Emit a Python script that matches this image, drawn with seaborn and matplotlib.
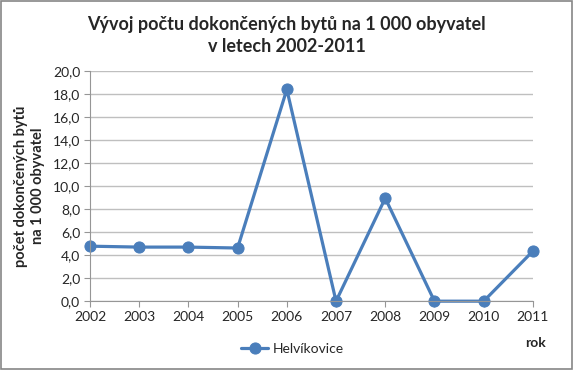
import matplotlib
matplotlib.use("Agg")
import matplotlib.pyplot as plt
import seaborn as sns
import pandas as pd
from matplotlib.patches import Rectangle

years = ["2002", "2003", "2004", "2005", "2006", "2007", "2008", "2009", "2010", "2011"]
values = [4.78, 4.7, 4.7, 4.62, 18.4, 0.0, 8.95, 0.0, 0.0, 4.35]
series_name = "Helvíkovice"
y_ticks = [0, 2, 4, 6, 8, 10, 12, 14, 16, 18, 20]

sns.set_style("white")
plt.rcParams['font.family'] = ['Lato', 'DejaVu Sans']

df = pd.DataFrame({"rok": list(range(len(years))), "value": values, "series": series_name})

fig = plt.figure(figsize=(5.73, 3.70), dpi=100)
ax = fig.add_axes([0.157, 0.186, 0.773, 0.622])
color = "#4A7EBB"
sns.lineplot(data=df, x="rok", y="value", hue="series", palette=[color], marker="o",
             markersize=8, linewidth=2.3, markeredgecolor=color, ax=ax, legend=True)
for ln in ax.lines:
    ln.set_clip_on(False)

ax.set_xlim(0, len(years) - 1)
ax.set_ylim(0, 20)
ax.set_xticks(range(len(years)))
ax.set_xticklabels(years, fontsize=10)
ax.set_yticks(y_ticks)
ax.set_yticklabels([f"{v:.1f}".replace(".", ",") for v in y_ticks], fontsize=10)
ax.yaxis.grid(True, color="#BFBFBF", linewidth=1)
ax.set_axisbelow(True)
for s in ["top", "right"]:
    ax.spines[s].set_visible(False)
for s in ["left", "bottom"]:
    ax.spines[s].set_color("#969696")
ax.tick_params(axis="both", which="both", length=4, color="#969696", direction="out",
               bottom=True, left=True, pad=3)
ax.set_xlabel("")
ax.set_ylabel("počet dokončených bytů\nna 1 000 obyvatel", fontsize=10.5, fontweight="bold", labelpad=6)

ax.legend(frameon=False, fontsize=10, handlelength=2.0, handletextpad=0.3)
leg = ax.get_legend()
leg.set_bbox_to_anchor((0.51, 0.058), transform=fig.transFigure)
leg.set_loc("center")

fig.text(0.5, 0.935, "Vývoj počtu dokončených bytů na 1 000 obyvatel", ha="center", va="center",
         fontsize=13, fontweight="bold")
fig.text(0.5, 0.875, "v letech 2002-2011", ha="center", va="center", fontsize=13, fontweight="bold")
fig.text(0.935, 0.073, "rok", ha="center", va="center", fontsize=10, fontweight="bold")

fig.patches.append(Rectangle((0.002, 0.003), 0.996, 0.994, transform=fig.transFigure,
                             fill=False, edgecolor="#868686", linewidth=1.2))
fig.savefig("out.png", dpi=100)
